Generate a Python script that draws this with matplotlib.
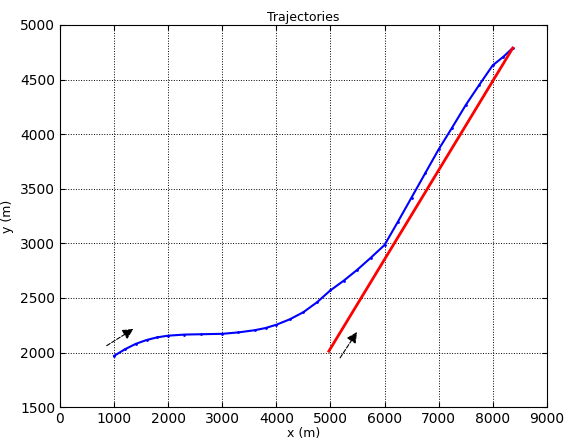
import matplotlib
matplotlib.use("Agg")
import matplotlib.pyplot as plt

blue_x = [1000, 1200, 1400, 1600, 1800, 2000, 2300, 2600, 3000, 3300, 3600, 3800, 4000, 4250, 4500, 4750, 5000, 5250, 5500, 5750, 6000, 6250, 6500, 6750, 7000, 7250, 7500, 7750, 8000, 8200, 8370]
blue_y = [1970, 2030, 2080, 2115, 2140, 2155, 2165, 2168, 2172, 2185, 2205, 2225, 2255, 2305, 2370, 2460, 2570, 2660, 2760, 2870, 2985, 3200, 3420, 3640, 3860, 4060, 4265, 4450, 4630, 4710, 4789]
red_x = [4971, 8372]
red_y = [2013, 4789]
arrow_tails = [(820, 2050), (5150, 1930)]
arrow_heads = [(1400, 2230), (5520, 2210)]

fig = plt.figure(figsize=(5.66, 4.46), dpi=100)
ax = fig.add_axes([0.106, 0.087, 0.86, 0.857])
ax.plot(blue_x, blue_y, color='blue', lw=1.5, marker='.', ms=2)
ax.plot(red_x, red_y, color='red', lw=2)
for t, h in zip(arrow_tails, arrow_heads):
    ax.annotate('', xy=h, xytext=t,
                arrowprops=dict(arrowstyle='-|>', color='black', lw=0.8, ls='--', mutation_scale=16))
ax.set_xlim(0, 9000)
ax.set_ylim(1500, 5000)
ax.set_xticks(range(0, 9001, 1000))
ax.set_yticks(range(1500, 5001, 500))
ax.grid(True, color='black', ls=':', lw=0.7)
ax.tick_params(direction='in', labelsize=10, top=True, right=True)
ax.set_xlabel('x (m)', fontsize=9, labelpad=1)
ax.set_ylabel('y (m)', fontsize=9)
ax.set_title('Trajectories', fontsize=9, pad=3)
fig.savefig('out.png', dpi=100)
